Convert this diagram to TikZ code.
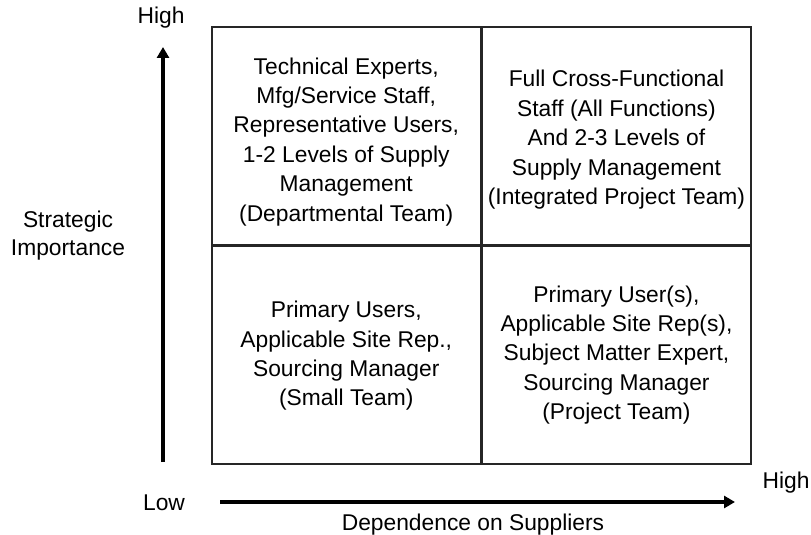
\documentclass[tikz,border=0pt]{standalone}
\usepackage{fontspec}
\setmainfont{Liberation Sans}
\usetikzlibrary{arrows.meta,positioning}
\begin{document}
\begin{tikzpicture}[x=1pt, y=-1pt,
    every node/.style={font=\fontsize{22.8}{29.4}\selectfont, align=center},
    cell/.style={draw=black!85, line width=1.7pt, inner sep=0pt,
      minimum width=268.5pt, minimum height=217.5pt},
    axis/.style={line width=4pt, -{Triangle[length=11pt, width=12pt]}}]
    \useasboundingbox (0,0) rectangle (811,535);
    % the four quadrants
    \node[cell] (tl) at (346.25,135.75) {};
    \node[cell, right=0pt of tl] (tr) {};
    \node[cell, below=0pt of tl] (bl) {};
    \node[cell, below=0pt of tr] (br) {};
    % team make-up in each quadrant
    \node (tltext) at ([yshift=-6pt]tl.center) {Technical Experts,\\Mfg/Service Staff,\\Representative Users,\\1-2 Levels of Supply\\Management\\(Departmental Team)};
    \node (trtext) at ([yshift=-4pt]tr.center) {Full Cross-Functional\\Staff (All Functions)\\And 2-3 Levels of\\Supply Management\\(Integrated Project Team)};
    \node (bltext) at ([yshift=-1pt]bl.center) {Primary Users,\\Applicable Site Rep.,\\Sourcing Manager\\(Small Team)};
    \node (brtext) at (br.center) {Primary User(s),\\Applicable Site Rep(s),\\Subject Matter Expert,\\Sourcing Manager\\(Project Team)};
    % axes
    \coordinate (ylow) at (163,462);
    \coordinate (yhigh) at (163,47);
    \coordinate (xlow) at (220,502);
    \coordinate (xhigh) at (735,502);
    \draw[axis] (ylow) -- (yhigh);
    \draw[axis] (xlow) -- (xhigh);
    % axis labels
    \node (ytop) at (161,18) {High};
    \node[font=\fontsize{22.8}{28}\selectfont] (ylabel) at (68,236) {Strategic\\Importance};
    \node (origin) at (164,503) {Low};
    \node (xend) at (786,483) {High};
    \node (xlabel) at (473,525) {Dependence on Suppliers};
\end{tikzpicture}
\end{document}
